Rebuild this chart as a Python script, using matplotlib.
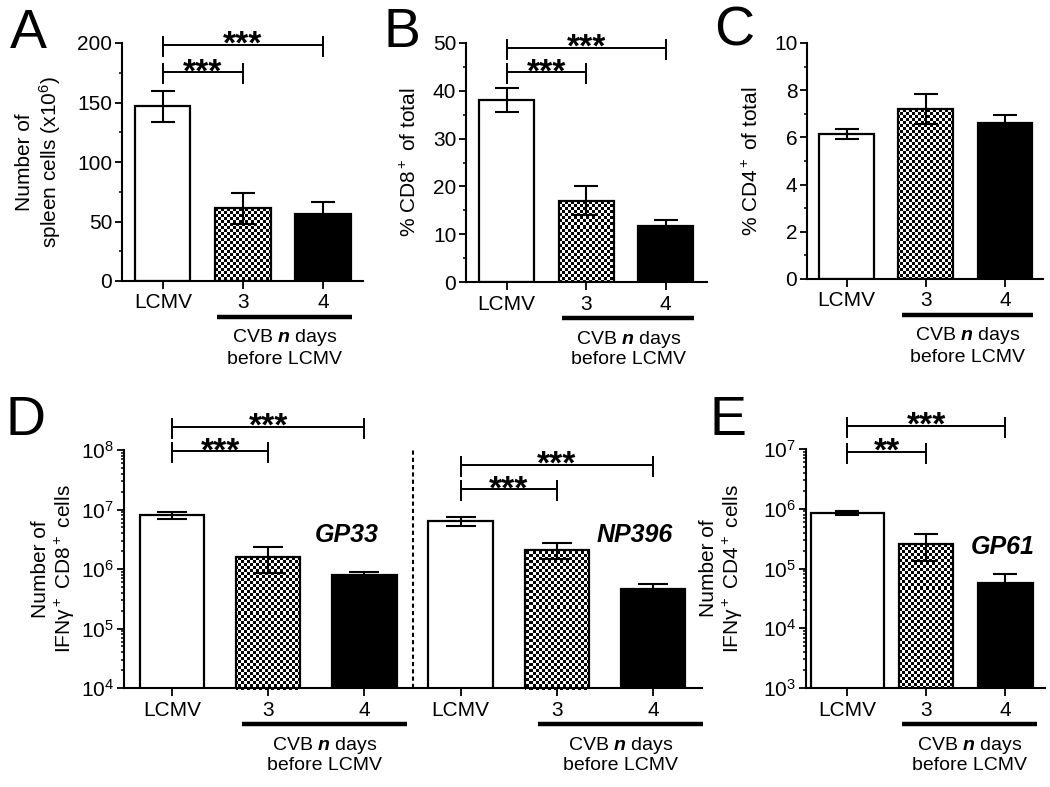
import numpy as np
import matplotlib
matplotlib.use("Agg")
from matplotlib import pyplot as plt
from matplotlib.image import AxesImage
from matplotlib.ticker import MultipleLocator, LogLocator, NullFormatter
from matplotlib.transforms import blended_transform_factory

plt.rcParams["font.family"] = ["Liberation Sans", "DejaVu Sans"]
plt.rcParams["mathtext.fontset"] = "custom"
plt.rcParams["mathtext.rm"] = "Liberation Sans"
plt.rcParams["mathtext.it"] = "Liberation Sans:italic"
plt.rcParams["mathtext.bf"] = "Liberation Sans:bold"
plt.rcParams["mathtext.bfit"] = "Liberation Sans:italic:bold"
plt.rcParams["axes.linewidth"] = 1.5

# data
groups = ["LCMV", "3", "4"]
spleenMean = [147, 61, 56]
spleenErr = [13, 13, 10]
cd8Mean = [38, 17, 11.7]
cd8Err = [2.5, 3.0, 1.3]
cd4Mean = [6.15, 7.2, 6.6]
cd4Err = [0.2, 0.65, 0.35]
gp33Mean = [8.0e6, 1.6e6, 8.0e5]
gp33Err = [1.0e6, 0.75e6, 1.0e5]
np396Mean = [6.3e6, 2.1e6, 4.6e5]
np396Err = [1.1e6, 0.65e6, 1.0e5]
gp61Mean = [8.5e5, 2.6e5, 5.7e4]
gp61Err = [0.6e5, 1.25e5, 2.4e4]
stars3 = "***"
stars2 = "**"

W, H = 1050, 787
fig = plt.figure(figsize=(W / 100, H / 100), dpi=100)


def pxAxes(l, t, r, b):
    ax = fig.add_axes([l / W, 1 - b / H, (r - l) / W, (b - t) / H])
    ax.spines["top"].set_visible(False)
    ax.spines["right"].set_visible(False)
    ax.tick_params(which="major", direction="out", length=5, width=1.3, labelsize=15, pad=2)
    ax.tick_params(axis="x", which="major", length=6, pad=3)
    ax.tick_params(which="minor", direction="out", length=2.5, width=1.1)
    return ax


def checker(ax, bar, cell=3):
    bb = ax.get_window_extent()
    nx, ny = int(bb.width / cell) + 1, int(bb.height / cell) + 1
    arr = np.indices((ny, nx)).sum(axis=0) % 2
    im = AxesImage(ax, cmap="gray", interpolation="nearest", origin="upper",
                   extent=(0, nx * cell / bb.width, 1 - ny * cell / bb.height, 1),
                   transform=ax.transAxes)
    im.set_data(arr)
    im.set_clim(0, 1)
    ax.add_image(im)
    im.set_clip_path(bar)


def drawBars(ax, xs, means, errs, width=0.68, capsize=8.5):
    widths = width if np.ndim(width) else [width] * 3
    bars = ax.bar(xs, means, width=widths, color=["white", "none", "black"],
                  edgecolor="black", linewidth=1.6, zorder=2)
    checker(ax, bars[1])
    ax.errorbar(xs, means, yerr=errs, fmt="none", ecolor="black", elinewidth=1.5,
                capsize=capsize, capthick=1.5, zorder=3)


def bracket(ax, x1, x2, y, label):
    ax.plot([x1, x2], [y, y], color="black", lw=1.4, clip_on=False)
    for x in (x1, x2):
        px = ax.transData.transform((x, y))
        top = ax.transData.inverted().transform((px[0], px[1] + 8))[1]
        bot = ax.transData.inverted().transform((px[0], px[1] - 11))[1]
        ax.plot([x, x], [bot, top], color="black", lw=1.4, clip_on=False)
    ax.annotate(label, xy=((x1 + x2) / 2, y), xytext=(0, -6.5), textcoords="offset points",
                ha="center", va="baseline", fontsize=24, fontweight="bold",
                annotation_clip=False)


def cvbLabel(ax, x1, x2):
    h = ax.get_window_extent().height
    trans = blended_transform_factory(ax.transData, ax.transAxes)
    ax.plot([x1, x2], [-36 / h] * 2, transform=trans, lw=3.2, color="black",
            solid_capstyle="butt", clip_on=False)
    xm = (x1 + x2) / 2
    ax.text(xm, -57 / h, "CVB $\\mathbfit{n}$ days", transform=trans, ha="center",
            va="center", fontsize=14)
    ax.text(xm, -78 / h, "before LCMV", transform=trans, ha="center", va="center",
            fontsize=14)


xs = np.arange(3)

# A
axA = pxAxes(122, 43, 363, 281)
axA.set_xlim(-0.51, 2.5)
axA.set_ylim(0, 200)
drawBars(axA, xs, spleenMean, spleenErr, width=0.69)
axA.yaxis.set_major_locator(MultipleLocator(50))
axA.yaxis.set_minor_locator(MultipleLocator(25))
axA.set_xticks(xs, groups)
axA.set_ylabel("Number of\nspleen cells (x10$^6$)", fontsize=15, linespacing=1.15)
axA.yaxis.set_label_coords(-0.245, 0.5)
bracket(axA, 0, 2, 198.3, stars3)
bracket(axA, 0, 1, 175.6, stars3)
cvbLabel(axA, 0.68, 2.36)

# B
axB = pxAxes(466, 43, 707, 282)
axB.set_xlim(-0.51, 2.52)
axB.set_ylim(0, 50)
drawBars(axB, xs, cd8Mean, cd8Err, width=0.69)
axB.yaxis.set_major_locator(MultipleLocator(10))
axB.yaxis.set_minor_locator(MultipleLocator(5))
axB.set_xticks(xs, groups)
axB.set_ylabel("% CD8$^+$ of total", fontsize=15)
axB.yaxis.set_label_coords(-0.19, 0.5)
bracket(axB, 0, 2, 48.95, stars3)
bracket(axB, 0, 1, 43.9, stars3)
cvbLabel(axB, 0.70, 2.36)

# C
axC = pxAxes(807, 43, 1043, 279)
axC.set_xlim(-0.5, 2.48)
axC.set_ylim(0, 10)
drawBars(axC, xs, cd4Mean, cd4Err, width=0.69)
axC.yaxis.set_major_locator(MultipleLocator(2))
axC.yaxis.set_minor_locator(MultipleLocator(1))
axC.set_xticks(xs, groups)
axC.set_ylabel("% CD4$^+$ of total", fontsize=15)
axC.yaxis.set_label_coords(-0.19, 0.5)
cvbLabel(axC, 0.70, 2.35)

# D (two epitopes side by side, split by dashed line)
axD = pxAxes(124, 450, 702, 688)
axD.set_yscale("log")
axD.set_xlim(-0.5, 5.51)
axD.set_ylim(1e4, 1e8)
drawBars(axD, xs, gp33Mean, gp33Err, width=0.67, capsize=11)
drawBars(axD, xs + 3, np396Mean, np396Err, width=0.67, capsize=11)
axD.axvline(2.5, color="black", lw=1.5, ls=(0, (2, 1.5)))
axD.yaxis.set_major_locator(LogLocator(base=10, numticks=10))
axD.yaxis.set_minor_locator(LogLocator(base=10, subs=np.arange(2, 10), numticks=50))
axD.yaxis.set_minor_formatter(NullFormatter())
axD.set_xticks(list(xs) + list(xs + 3), groups + groups)
axD.set_ylabel("Number of\nIFN\u03b3$^+$ CD8$^+$ cells", fontsize=15, linespacing=1.15)
axD.yaxis.set_label_coords(-0.081, 0.5)
bracket(axD, 0, 2, 10 ** 8.39, stars3)
bracket(axD, 0, 1, 10 ** 7.98, stars3)
bracket(axD, 3, 5, 10 ** 7.75, stars3)
bracket(axD, 3, 4, 10 ** 7.34, stars3)
axD.text(1.82, 10 ** 6.57, "GP33", fontsize=18, fontweight="bold", style="italic",
         ha="center", va="center")
axD.text(4.81, 10 ** 6.57, "NP396", fontsize=18, fontweight="bold", style="italic",
         ha="center", va="center")
cvbLabel(axD, 0.73, 2.44)
cvbLabel(axD, 3.80, 5.52)

# E
axE = pxAxes(806, 449, 1045, 688)
axE.set_yscale("log")
axE.set_xlim(-0.52, 2.5)
axE.set_ylim(1e3, 1e7)
drawBars(axE, xs, gp61Mean, gp61Err, width=[0.92, 0.68, 0.7], capsize=8.5)
axE.yaxis.set_major_locator(LogLocator(base=10, numticks=10))
axE.yaxis.set_minor_locator(LogLocator(base=10, subs=np.arange(2, 10), numticks=50))
axE.yaxis.set_minor_formatter(NullFormatter())
axE.set_xticks(xs, groups)
axE.set_ylabel("Number of\nIFN\u03b3$^+$ CD4$^+$ cells", fontsize=15, linespacing=1.15)
axE.yaxis.set_label_coords(-0.255, 0.5)
bracket(axE, 0, 2, 10 ** 7.385, stars3)
bracket(axE, 0, 1, 10 ** 6.95, stars2)
axE.text(1.96, 10 ** 5.36, "GP61", fontsize=18, fontweight="bold", style="italic",
         ha="center", va="center")
cvbLabel(axE, 0.69, 2.4)

# panel letters
for letter, lx, ly in [("A", 10, 48), ("B", 383, 47), ("C", 714, 46), ("D", 6, 435), ("E", 709, 435)]:
    fig.text(lx / W, 1 - ly / H, letter, fontsize=40, ha="left", va="baseline")

fig.savefig("out.png", dpi=100)
